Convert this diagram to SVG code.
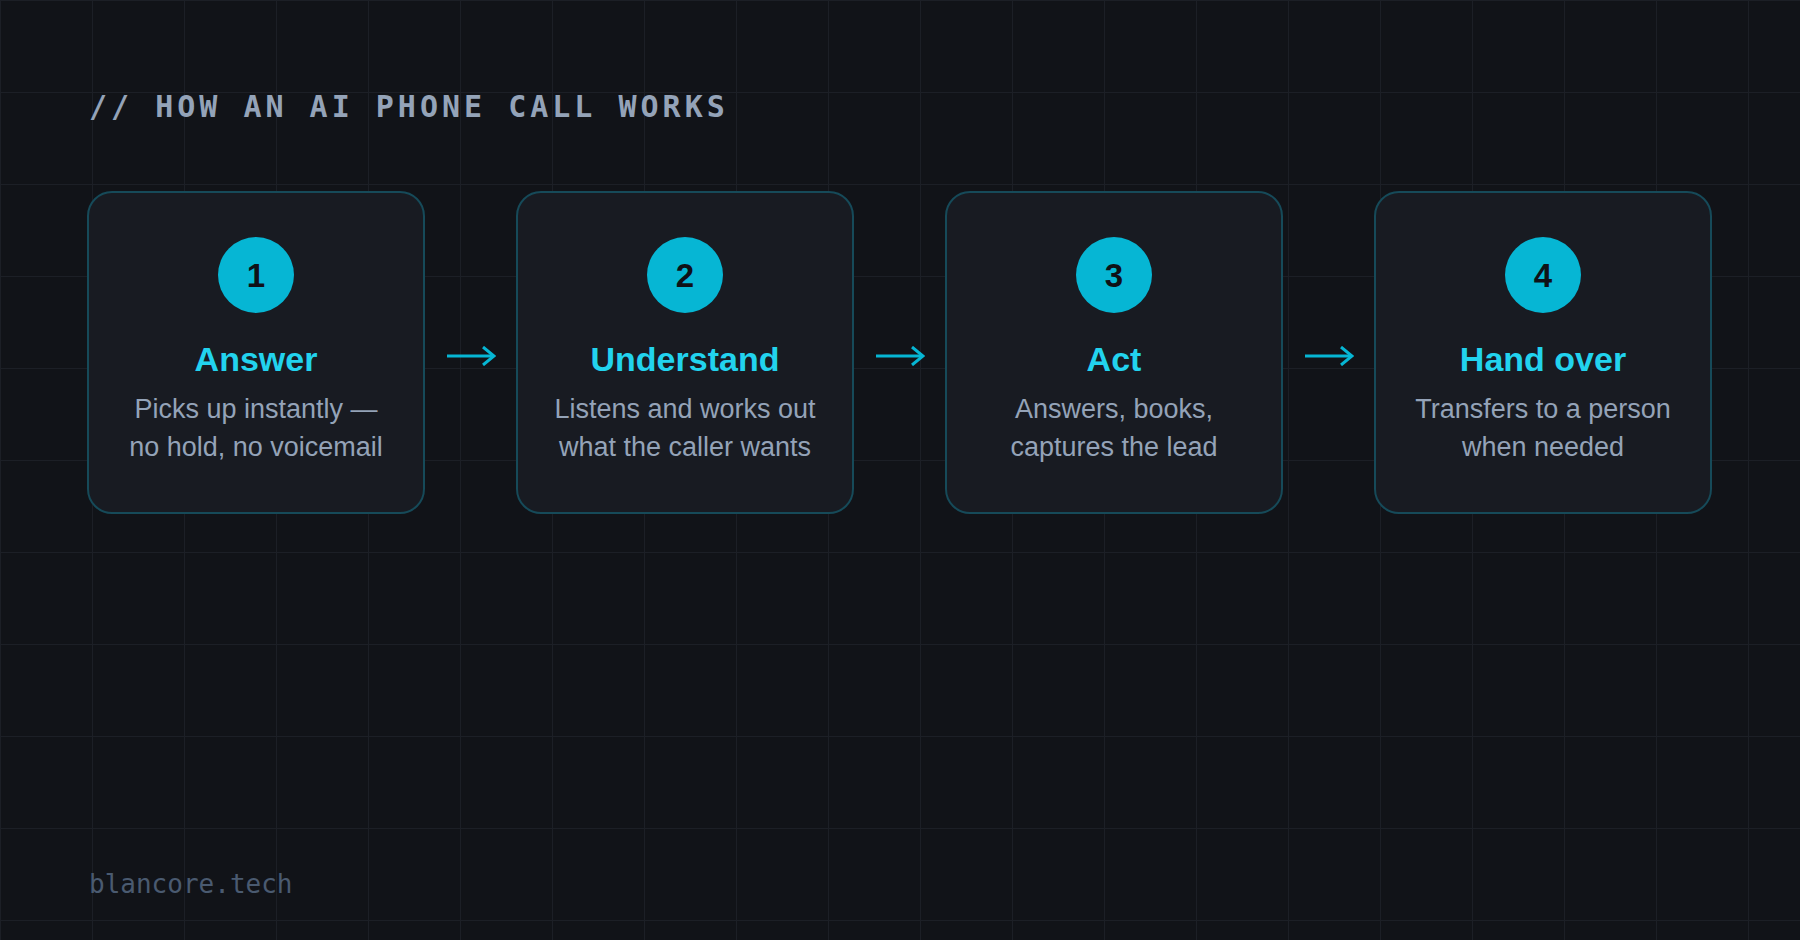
<svg xmlns="http://www.w3.org/2000/svg" width="1800" height="940" viewBox="0 0 1800 940">
<defs>
<pattern id="grid" width="92" height="92" patternUnits="userSpaceOnUse">
<path d="M0 0.5 H92 M0.5 0 V92" fill="none" stroke="#1c1f26" stroke-width="1"/>
</pattern>
<marker id="ah" viewBox="0 0 14 20" markerWidth="14" markerHeight="20" refX="12" refY="10" orient="auto" markerUnits="userSpaceOnUse">
<path d="M1 1 L12 10 L1 19" fill="none" stroke="#06b6d4" stroke-width="3" stroke-linejoin="miter"/>
</marker>
</defs>
<style>
.card{fill:#181b22;stroke:#164a59;stroke-width:2}
.badge{fill:#06b6d4}
.num{font-family:"Liberation Sans",Arial,sans-serif;font-weight:bold;font-size:33px;fill:#0f1117;text-anchor:middle}
.ttl{font-family:"Liberation Sans",Arial,sans-serif;font-weight:bold;font-size:34px;fill:#22d3ee;text-anchor:middle}
.desc{font-family:"Liberation Sans",Arial,sans-serif;font-size:27px;fill:#94a3b8;text-anchor:middle}
.conn{fill:none;stroke:#06b6d4;stroke-width:3;marker-end:url(#ah)}
</style>
<rect width="1800" height="940" fill="#111318"/>
<rect width="1800" height="940" fill="url(#grid)"/>
<text x="89" y="117" font-family="'DejaVu Sans Mono',monospace" font-weight="bold" font-size="30" letter-spacing="4" fill="#94a3b8">// HOW AN AI PHONE CALL WORKS</text>
<g id="node-1">
<rect class="card" x="88" y="192" width="336" height="321" rx="24"/>
<circle class="badge" cx="256" cy="275" r="38"/>
<text class="num" x="256" y="287">1</text>
<text class="ttl" x="256" y="371">Answer</text>
<text class="desc" x="256" y="418">Picks up instantly —</text>
<text class="desc" x="256" y="456">no hold, no voicemail</text>
</g>
<g id="node-2">
<rect class="card" x="517" y="192" width="336" height="321" rx="24"/>
<circle class="badge" cx="685" cy="275" r="38"/>
<text class="num" x="685" y="287">2</text>
<text class="ttl" x="685" y="371">Understand</text>
<text class="desc" x="685" y="418">Listens and works out</text>
<text class="desc" x="685" y="456">what the caller wants</text>
</g>
<g id="node-3">
<rect class="card" x="946" y="192" width="336" height="321" rx="24"/>
<circle class="badge" cx="1114" cy="275" r="38"/>
<text class="num" x="1114" y="287">3</text>
<text class="ttl" x="1114" y="371">Act</text>
<text class="desc" x="1114" y="418">Answers, books,</text>
<text class="desc" x="1114" y="456">captures the lead</text>
</g>
<g id="node-4">
<rect class="card" x="1375" y="192" width="336" height="321" rx="24"/>
<circle class="badge" cx="1543" cy="275" r="38"/>
<text class="num" x="1543" y="287">4</text>
<text class="ttl" x="1543" y="371">Hand over</text>
<text class="desc" x="1543" y="418">Transfers to a person</text>
<text class="desc" x="1543" y="456">when needed</text>
</g>
<g id="connectors">
<path class="conn" d="M447 356 H494"/>
<path class="conn" d="M876 356 H923"/>
<path class="conn" d="M1305 356 H1352"/>
</g>
<text x="89" y="893" font-family="'DejaVu Sans Mono',monospace" font-size="26" fill="#4a5a70">blancore.tech</text>
</svg>
